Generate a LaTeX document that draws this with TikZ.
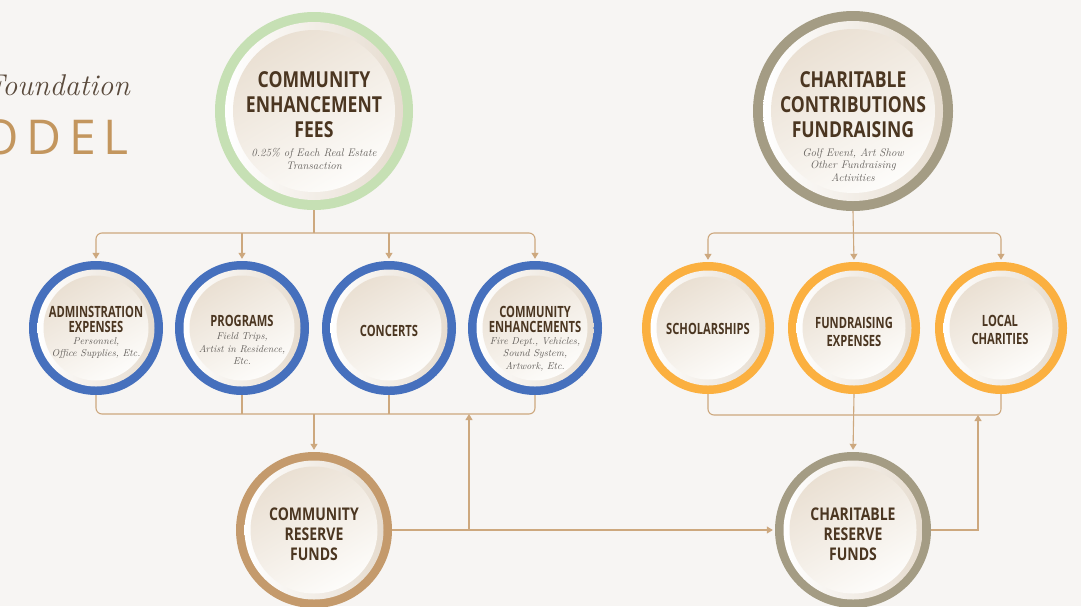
\documentclass[tikz,border=0pt]{standalone}
\usepackage{fontspec}
\newfontfamily\condfont{Open Sans}[FakeStretch=0.8]
\newfontfamily\condfontN{Open Sans}[FakeStretch=0.72]
\newfontfamily\titlesans{Open Sans}[LetterSpace=16]
\usetikzlibrary{arrows.meta,calc}
\definecolor{bg}{HTML}{F7F5F3}
\definecolor{greenring}{HTML}{C6E0B4}
\definecolor{bluering}{HTML}{4670BD}
\definecolor{orangering}{HTML}{FBB040}
\definecolor{tauperring}{HTML}{A49C84}
\definecolor{brownring}{HTML}{C49A6C}
\definecolor{conn}{HTML}{CDA87E}
\definecolor{txt}{HTML}{4B3621}
\definecolor{subtxt}{HTML}{625E5A}
\definecolor{rimc}{HTML}{E6DCCF}
\definecolor{discT}{HTML}{EAE0D3}
\definecolor{discB}{HTML}{FDFCFA}
\definecolor{fnd}{HTML}{5A4A3C}
\definecolor{model}{HTML}{C3965E}
\newcommand\mybubble[7]{%
  \node[circle, inner sep=0pt, minimum size=2*#4pt] (#1) at (#2,#3) {};
  \fill[#6] (#1.center) circle[radius=#4pt];
  \shade[left color=white, right color=rimc] (#1.center) circle[radius=#4pt-#5pt];
  \shade[top color=discT, bottom color=discB, shading angle=30] (#1.center) circle[radius=#4pt-#5pt-#7pt];
}
\begin{document}
\begin{tikzpicture}[x=1pt,y=-1pt,
  ttlA/.style={font=\condfont\bfseries\fontsize{22}{25}\selectfont, text=txt, align=center, inner sep=0pt},
  ttlB/.style={font=\condfontN\bfseries\fontsize{15.5}{14.5}\selectfont, text=txt, align=center, inner sep=0pt},
  ttlO/.style={font=\condfontN\bfseries\fontsize{15.5}{18}\selectfont, text=txt, align=center, inner sep=0pt},
  ttlC/.style={font=\condfont\bfseries\fontsize{17.5}{20}\selectfont, text=txt, align=center, inner sep=0pt},
  subA/.style={font=\itshape\fontsize{11}{12.5}\selectfont, text=subtxt, align=center, inner sep=0pt},
  subB/.style={font=\itshape\fontsize{10}{12.5}\selectfont, text=subtxt, align=center, inner sep=0pt},
  line/.style={draw=conn, line width=1.1pt},
  arr/.style={draw=conn, line width=1.1pt, -{Triangle[length=6pt,width=7pt]}, shorten >=2pt}]
\fill[bg] (0,0) rectangle (1081,606);
\useasboundingbox (0,0) rectangle (1081,606);

% title
\node[anchor=base east, inner sep=0pt, font=\itshape\fontsize{30}{30}\selectfont, text=fnd] (fnd) at (130,95) {Foundation};
\node[anchor=base east, inner sep=0pt, font=\titlesans\fontsize{48}{48}\selectfont, text=model] (mdl) at (129,154) {ODEL};

% bubbles
\mybubble{ce}{314}{111}{99}{10}{greenring}{8}
\mybubble{ct}{853}{111}{100}{10}{tauperring}{8}
\mybubble{m1}{96}{328}{67}{8.5}{bluering}{6}
\mybubble{m2}{242}{328}{67}{8.5}{bluering}{6}
\mybubble{m3}{389}{328}{67}{8.5}{bluering}{6}
\mybubble{m4}{535}{328}{67}{8.5}{bluering}{6}
\mybubble{o1}{708}{328}{66}{8.5}{orangering}{6}
\mybubble{o2}{854}{328}{66}{8.5}{orangering}{6}
\mybubble{o3}{1001}{328}{66}{8.5}{orangering}{6}
\mybubble{cr}{314}{530}{78}{8.5}{brownring}{6}
\mybubble{chr}{853}{530}{78}{8.5}{tauperring}{6}

% texts
\node[ttlA] (ce-t) at (314,104.5) {COMMUNITY\\ENHANCEMENT\\FEES};
\node[subA] (ce-s) at (314,159) {0.25\% of Each Real Estate\\Transaction};
\node[ttlA] (ct-t) at (853,104.5) {CHARITABLE\\CONTRIBUTIONS\\FUNDRAISING};
\node[subA] (ct-s) at (853,165) {Golf Event, Art Show\\Other Fundraising\\Activities};

\node[ttlB] (m1-t) at (96,319.5) {ADMINSTRATION\\EXPENSES};
\node[subB] (m1-s) at (96,348) {Personnel,\\Office Supplies, Etc.};
\node[ttlB] (m2-t) at (242,321) {PROGRAMS};
\node[subB] (m2-s) at (242,349) {Field Trips,\\Artist in Residence,\\Etc.};
\node[ttlB] (m3-t) at (389,331) {CONCERTS};
\node[ttlB] (m4-t) at (535,319.5) {COMMUNITY\\ENHANCEMENTS};
\node[subB] (m4-s) at (535,354) {Fire Dept., Vehicles,\\Sound System,\\Artwork, Etc.};

\node[ttlO] (o1-t) at (708,328.5) {SCHOLARSHIPS};
\node[ttlO] (o2-t) at (854,331.5) {FUNDRAISING\\EXPENSES};
\node[ttlO] (o3-t) at (1000,329.5) {LOCAL\\CHARITIES};

\node[ttlC] (cr-t) at (314,534.5) {COMMUNITY\\RESERVE\\FUNDS};
\node[ttlC] (chr-t) at (853,534.5) {CHARITABLE\\RESERVE\\FUNDS};

% connector coordinates
\coordinate (busL) at (314,233);
\coordinate (botL) at (314,414);
\coordinate (upL) at (469,530);
\coordinate (busR) at (853,233);
\coordinate (botR) at (853,415);
\coordinate (upR) at (978,415);

% left top
\draw[line] (ce.south) -- (busL);
\draw[arr, rounded corners=6pt] (busL) -| (m1.north);
\draw[arr, rounded corners=6pt] (busL) -| (m4.north);
\draw[arr] (m2.north |- busL) -- (m2.north);
\draw[arr] (m3.north |- busL) -- (m3.north);
% left bottom
\draw[line, rounded corners=6pt] (m1.south) -- (m1.south |- botL) -- (m4.south |- botL) -- (m4.south);
\draw[line] (m2.south) -- (m2.south |- botL);
\draw[line] (m3.south) -- (m3.south |- botL);
\draw[arr] (botL) -- (cr.north);
\draw[arr] (cr.east) -- (chr.west);
\draw[arr, shorten >=0pt] (upL) -- (upL |- botL);
% right top
\draw[arr] (ct.south) -- (o2.north);
\draw[arr, rounded corners=6pt] (busR) -| (o1.north);
\draw[arr, rounded corners=6pt] (busR) -| (o3.north);
% right bottom
\draw[line, rounded corners=6pt] (o1.south) -- (o1.south |- botR) -- (o3.south |- botR) -- (o3.south);
\draw[arr] (o2.south) -- (chr.north);
\draw[arr, shorten >=0pt] (chr.east) -| (upR);
\end{tikzpicture}
\end{document}
